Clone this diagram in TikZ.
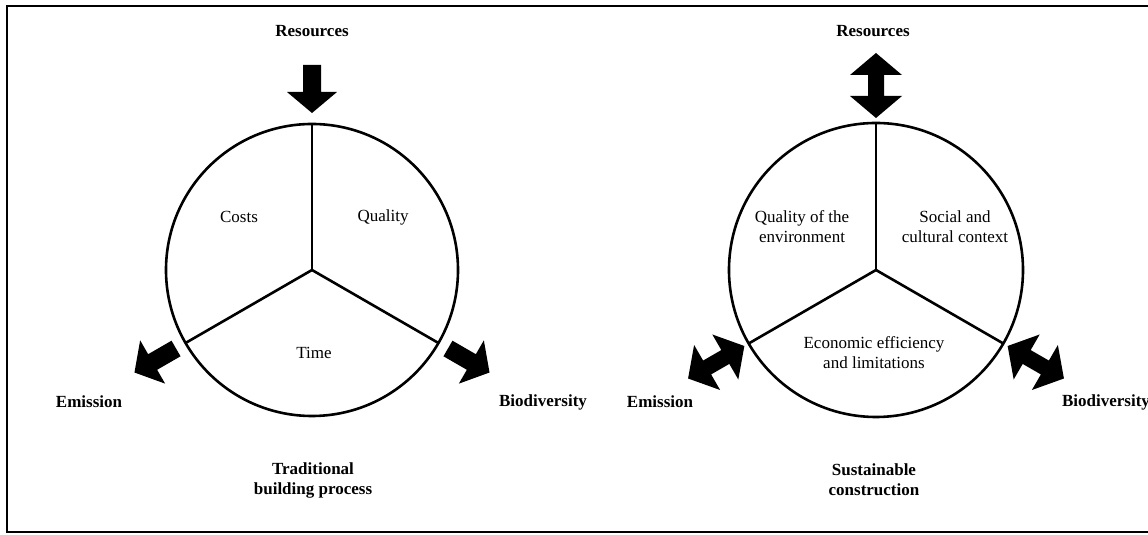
\documentclass[tikz,border=0pt]{standalone}
\usepackage{fontspec}
\setmainfont{Liberation Serif}

\tikzset{
  lbl/.style={font=\fontsize{8.5}{10}\selectfont\bfseries, align=center},
  txt/.style={font=\fontsize{8.5}{10}\selectfont, align=center},
  wheel/.style={black, line width=1.3pt},
}

\begin{document}
\begin{tikzpicture}[x=0.5pt, y=0.5pt]
    \useasboundingbox (0,0) rectangle (1148,535);
    \draw[black, line width=1pt] (1160,529) -- (7,529) -- (7,3) -- (1160,3);

    % traditional building process
    \begin{scope}[shift={(312,265)}]
        \draw[wheel] (0,0) circle (146);
        \draw[wheel] (0,0) -- (90:146);
        \draw[wheel] (0,0) -- (210:146);
        \draw[wheel] (0,0) -- (330:146);

        \fill[black, rotate=90] (205,-9) -- (178,-9) -- (178,-25) -- (157,0) -- (178,25) -- (178,9) -- (205,9) -- cycle;
        \fill[black, rotate=210] (157,-9) -- (184,-9) -- (184,-25) -- (205,0) -- (184,25) -- (184,9) -- (157,9) -- cycle;
        \fill[black, rotate=330] (157,-9) -- (184,-9) -- (184,-25) -- (205,0) -- (184,25) -- (184,9) -- (157,9) -- cycle;

        \node[txt] (costs) at (-73,53) {Costs};
        \node[txt] (quality) at (71,53) {Quality};
        \node[txt] (time) at (2,-83) {Time};
        \node[lbl] (resL) at (0,239) {Resources};
        \node[lbl] (emiL) at (-223,-132) {Emission};
        \node[lbl] (bioL) at (231,-132) {Biodiversity};
        \node[lbl] (trad) at (1,-210) {Traditional\\building process};
    \end{scope}

    % sustainable construction
    \begin{scope}[shift={(876,265)}]
        \draw[wheel] (0,0) circle (147);
        \draw[wheel] (0,0) -- (90:147);
        \draw[wheel] (0,0) -- (210:147);
        \draw[wheel] (0,0) -- (330:147);

        \fill[black, rotate=90] (152,0) -- (174,26) -- (174,8) -- (195,8) -- (195,26) -- (217,0) -- (195,-26) -- (195,-8) -- (174,-8) -- (174,-26) -- cycle;
        \fill[black, rotate=210] (152,0) -- (174,26) -- (174,8) -- (195,8) -- (195,26) -- (217,0) -- (195,-26) -- (195,-8) -- (174,-8) -- (174,-26) -- cycle;
        \fill[black, rotate=330] (152,0) -- (174,26) -- (174,8) -- (195,8) -- (195,26) -- (217,0) -- (195,-26) -- (195,-8) -- (174,-8) -- (174,-26) -- cycle;

        \node[txt] (envq) at (-74,43) {Quality of the\\environment};
        \node[txt] (social) at (79,43) {Social and\\cultural context};
        \node[txt] (econ) at (-2,-83) {Economic efficiency\\and limitations};
        \node[lbl] (resR) at (-3,239) {Resources};
        \node[lbl] (emiR) at (-216,-132) {Emission};
        \node[lbl] (bioR) at (230,-132) {Biodiversity};
        \node[lbl] (sust) at (-2,-210) {Sustainable\\construction};
    \end{scope}
\end{tikzpicture}
\end{document}
